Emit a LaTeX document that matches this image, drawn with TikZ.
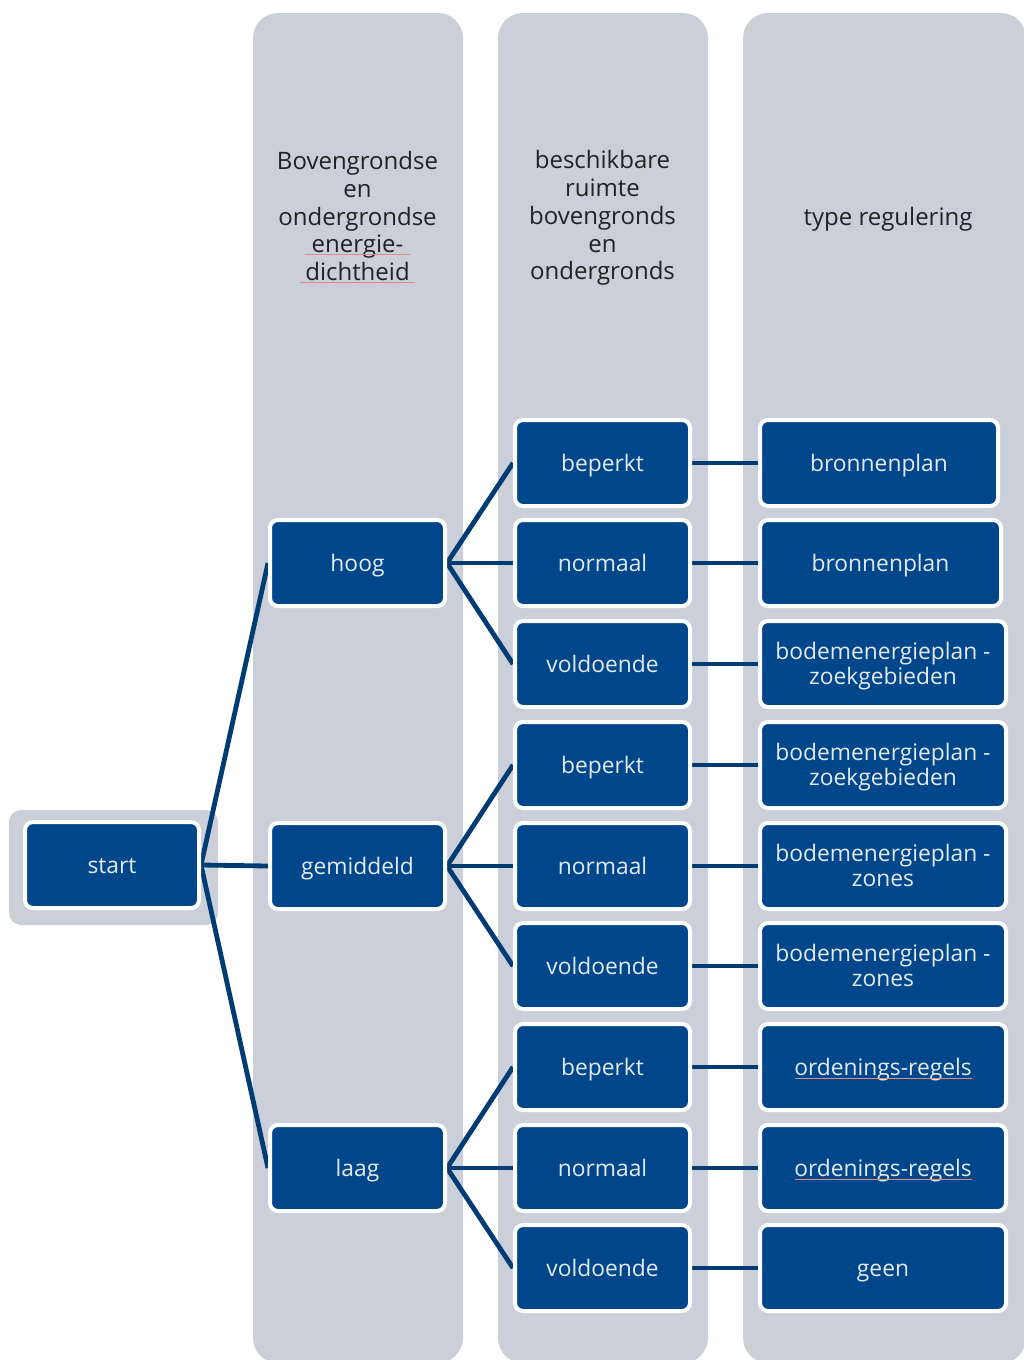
\documentclass[tikz,border=0pt]{standalone}
\usepackage{fontspec}
\setmainfont{Open Sans}
\definecolor{colgray}{HTML}{CBCFDA}
\definecolor{boxblue}{HTML}{00468A}
\definecolor{linkblue}{HTML}{003C74}
\definecolor{boxtext}{HTML}{E4EAF3}
\definecolor{headtext}{HTML}{222222}
\definecolor{spellred}{HTML}{E08A8A}
\pgfdeclarelayer{bg}
\pgfsetlayers{bg,main}
\begin{document}
\begin{tikzpicture}[x=1pt,y=-1pt,
  box/.style={rectangle, rounded corners=8pt, fill=boxblue, draw=white, line width=4pt,
    minimum height=86pt, text=boxtext, font=\fontsize{22.8}{25}\selectfont, align=center, inner sep=0pt,
    text height=21pt, text depth=5pt},
  two/.style={text height=46pt, text depth=5pt},
  lone/.style={box, minimum width=175pt},
  lthree/.style={box, minimum width=#1},
  head/.style={align=center, text=headtext, font=\fontsize{24}{27.8}\selectfont, inner sep=0pt},
  link/.style={draw=linkblue, line width=4.8pt},
  spell/.style={draw=spellred, line width=0.9pt}]
\useasboundingbox (0,0) rectangle (1024,1360);
\clip (0,0) rectangle (1024,1360);

% start box
\node[lone, minimum width=174pt] (start) at (112,865) {start};

\node[lone] (hoog) at (357.5,563) {hoog};
\node[lone] (gem) at (357.5,866) {gemiddeld};
\node[lone] (laag) at (357.5,1168) {laag};

\node[lone] (b1) at (602.5,463) {beperkt};
\node[lone] (n1) at (602.5,563) {normaal};
\node[lone] (v1) at (602.5,664) {voldoende};
\node[lone] (b2) at (602.5,765) {beperkt};
\node[lone] (n2) at (602.5,866) {normaal};
\node[lone] (v2) at (602.5,966) {voldoende};
\node[lone] (b3) at (602.5,1067) {beperkt};
\node[lone] (n3) at (602.5,1168) {normaal};
\node[lone] (v3) at (602.5,1268) {voldoende};

\node[lthree=238pt] (r1) at (879,463) {bronnenplan};
\node[lthree=241pt] (r2) at (880.5,563) {bronnenplan};
\node[lthree=246pt, two] (r3) at (883,664) {bodemenergieplan -\\zoekgebieden};
\node[lthree=246pt, two] (r4) at (883,765) {bodemenergieplan -\\zoekgebieden};
\node[lthree=246pt, two] (r5) at (883,866) {bodemenergieplan -\\zones};
\node[lthree=246pt, two] (r6) at (883,966) {bodemenergieplan -\\zones};
\node[lthree=246pt] (r7) at (883,1067) {ordenings-regels};
\node[lthree=246pt] (r8) at (883,1168) {ordenings-regels};
\node[lthree=246pt] (r9) at (883,1268) {geen};

% headers
\node[head] (h1) at (357.5,216) {Bovengrondse\\en\\ondergrondse\\energie-\\dichtheid};
\node[head] (h2) at (602.5,218) {beschikbare\\ruimte\\bovengronds\\en\\ondergronds};
\node[head] (h3) at (888,219) {type regulering};

% spell-check underlines
\draw[spell] (305,254) -- (410,254);
\draw[spell] (300,282) -- (415,282);
\draw[spell] (795,1078) -- (972,1078);
\draw[spell] (795,1179) -- (972,1179);

\begin{pgfonlayer}{bg}
  \fill[colgray, rounded corners=25pt] (253,13) rectangle (463,1363);
  \fill[colgray, rounded corners=25pt] (498,13) rectangle (708,1363);
  \fill[colgray, rounded corners=25pt] (743,13) rectangle (1026,1363);
  \fill[colgray, rounded corners=12pt] (9,810) rectangle (218,925);
  \draw[link] (start.east) -- (hoog.west);
  \draw[link] (start.east) -- (gem.west);
  \draw[link] (start.east) -- (laag.west);
  \foreach \p/\c in {hoog/b1, hoog/n1, hoog/v1, gem/b2, gem/n2, gem/v2, laag/b3, laag/n3, laag/v3}
    \draw[link] (\p.east) -- (\c.west);
  \foreach \a/\b in {b1/r1, n1/r2, v1/r3, b2/r4, n2/r5, v2/r6, b3/r7, n3/r8, v3/r9}
    \draw[link] (\a.east) -- (\b.west);
\end{pgfonlayer}
\end{tikzpicture}
\end{document}
